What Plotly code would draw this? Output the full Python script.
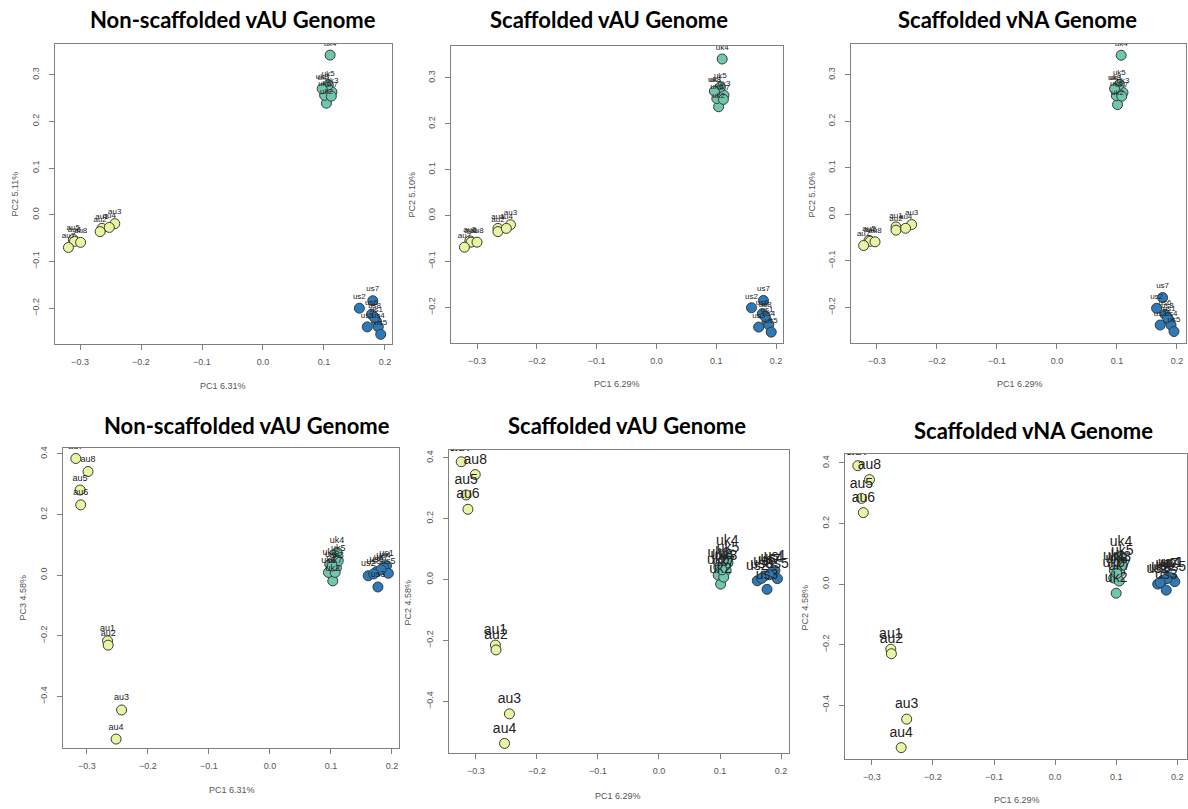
import plotly.graph_objects as go

# ---------------- data ----------------
samples = ["au1", "au2", "au3", "au4", "au5", "au6", "au7", "au8",
           "uk1", "uk2", "uk3", "uk4", "uk5", "uk6", "uk7", "uk8",
           "us1", "us2", "us3", "us4", "us5", "us6", "us7", "us8"]

titles = ["Non-scaffolded vAU Genome", "Scaffolded vAU Genome", "Scaffolded vNA Genome",
          "Non-scaffolded vAU Genome", "Scaffolded vAU Genome", "Scaffolded vNA Genome"]
x_titles = ["PC1 6.31%", "PC1 6.29%", "PC1 6.29%", "PC1 6.31%", "PC1 6.29%", "PC1 6.29%"]
y_titles = ["PC2 5.11%", "PC2 5.10%", "PC2 5.10%", "PC3 4.58%", "PC2 4.58%", "PC2 4.58%"]

x_ticks = [-0.3, -0.2, -0.1, 0.0, 0.1, 0.2]
y_ticks_top = [-0.2, -0.1, 0.0, 0.1, 0.2, 0.3]
y_ticks_bottom = [-0.4, -0.2, 0.0, 0.2, 0.4]

# Panel 1: non-scaffolded vAU, PC1 vs PC2
p1_x = [-0.264, -0.267, -0.243, -0.252, -0.311, -0.309, -0.319, -0.299,
        0.100, 0.104, 0.113, 0.110, 0.107, 0.101, 0.112, 0.097,
        0.186, 0.158, 0.171, 0.189, 0.193, 0.178, 0.180, 0.183]
p1_y = [-0.029, -0.036, -0.019, -0.027, -0.053, -0.057, -0.070, -0.059,
        0.268, 0.239, 0.263, 0.342, 0.278, 0.256, 0.254, 0.270,
        -0.228, -0.200, -0.240, -0.240, -0.256, -0.213, -0.184, -0.220]
# Panel 2: scaffolded vAU, PC1 vs PC2
p2_x = [-0.265, -0.265, -0.244, -0.251, -0.312, -0.310, -0.321, -0.300,
        0.099, 0.104, 0.113, 0.110, 0.107, 0.101, 0.112, 0.097,
        0.185, 0.159, 0.171, 0.188, 0.192, 0.177, 0.179, 0.182]
p2_y = [-0.028, -0.035, -0.020, -0.028, -0.055, -0.058, -0.069, -0.058,
        0.270, 0.237, 0.262, 0.341, 0.280, 0.255, 0.253, 0.271,
        -0.230, -0.201, -0.243, -0.238, -0.254, -0.214, -0.185, -0.220]
# Panel 3: scaffolded vNA, PC1 vs PC2
p3_x = [-0.268, -0.268, -0.242, -0.252, -0.313, -0.311, -0.322, -0.303,
        0.098, 0.101, 0.110, 0.107, 0.104, 0.099, 0.108, 0.096,
        0.187, 0.166, 0.172, 0.190, 0.195, 0.180, 0.176, 0.184]
p3_y = [-0.027, -0.034, -0.022, -0.030, -0.056, -0.058, -0.067, -0.059,
        0.269, 0.236, 0.262, 0.342, 0.279, 0.255, 0.254, 0.270,
        -0.228, -0.202, -0.238, -0.238, -0.252, -0.215, -0.179, -0.222]
# Panel 4: non-scaffolded vAU, PC1 vs PC3
p4_x = [-0.266, -0.265, -0.243, -0.252, -0.311, -0.310, -0.318, -0.298,
        0.098, 0.103, 0.109, 0.110, 0.112, 0.096, 0.107, 0.102,
        0.191, 0.161, 0.177, 0.186, 0.194, 0.175, 0.182, 0.170]
p4_y = [-0.217, -0.231, -0.445, -0.541, 0.281, 0.232, 0.385, 0.342,
        0.036, -0.019, 0.025, 0.075, 0.048, 0.009, 0.009, 0.030,
        0.031, -0.002, -0.039, 0.025, 0.006, 0.012, 0.018, 0.004]
# Panel 5: scaffolded vAU, PC1 vs PC3
p5_x = [-0.268, -0.267, -0.245, -0.253, -0.316, -0.313, -0.324, -0.301,
        0.098, 0.101, 0.110, 0.112, 0.113, 0.097, 0.106, 0.103,
        0.190, 0.161, 0.177, 0.185, 0.194, 0.173, 0.181, 0.168]
p5_y = [-0.215, -0.231, -0.441, -0.538, 0.278, 0.231, 0.387, 0.345,
        0.040, -0.015, 0.030, 0.078, 0.055, 0.015, 0.008, 0.032,
        0.030, -0.004, -0.032, 0.024, 0.003, 0.012, 0.016, 0.004]
# Panel 6: scaffolded vNA, PC1 vs PC3
p6_x = [-0.269, -0.268, -0.243, -0.252, -0.317, -0.314, -0.323, -0.304,
        0.097, 0.100, 0.106, 0.108, 0.110, 0.096, 0.105, 0.101,
        0.192, 0.168, 0.182, 0.187, 0.196, 0.176, 0.183, 0.172]
p6_y = [-0.215, -0.230, -0.446, -0.540, 0.283, 0.236, 0.391, 0.345,
        0.045, -0.030, 0.040, 0.091, 0.062, 0.020, 0.010, 0.035,
        0.020, 0.000, -0.020, 0.022, 0.008, 0.012, 0.018, 0.005]

panels_x = [p1_x, p2_x, p3_x, p4_x, p5_x, p6_x]
panels_y = [p1_y, p2_y, p3_y, p4_y, p5_y, p6_y]

# ---------------- style / layout ----------------
W, H = 1188, 809
group_colors = {"au": "#e9f5a3", "uk": "#6fc7ae", "us": "#2b7bba"}

# plot boxes in pixels: (left, right, top, bottom)
boxes = [(55, 392, 42, 343), (451, 783, 44, 342), (851, 1186, 42, 342),
         (63, 399, 447, 748), (449, 789, 449, 753), (845, 1187, 453, 759)]
x_ranges = [(-0.341, 0.2115), (-0.3435, 0.2117), (-0.343, 0.215),
            (-0.339, 0.2115), (-0.344, 0.213), (-0.344, 0.216)]
y_ranges = [(-0.277, 0.366), (-0.278, 0.3696), (-0.277, 0.3665),
            (-0.571, 0.42), (-0.570, 0.426), (-0.578, 0.43)]
label_sizes = [8, 8, 8, 9, 14, 14]
title_pos = [(233, 18), (609, 18), (1017, 18), (247, 425), (627, 425), (1033, 430)]
xt_pos = [(223, 385), (617, 383), (1020, 383), (232, 790), (618, 796), (1017, 800)]
yt_pos = [(15, 193), (412, 193), (812, 193), (23, 597), (408, 602), (805, 607)]


def fx(px):
    return px / W


def fy(py):
    return 1 - py / H


fig = go.Figure()
layout = dict(width=W, height=H, margin=dict(l=0, r=0, t=0, b=0),
              paper_bgcolor="white", plot_bgcolor="white", showlegend=False)
annotations = []

for i in range(6):
    n = i + 1
    xa = "x" if n == 1 else f"x{n}"
    ya = "y" if n == 1 else f"y{n}"
    xs, ys = panels_x[i], panels_y[i]
    for g in ["au", "uk", "us"]:
        idx = [k for k, s in enumerate(samples) if s.startswith(g)]
        fig.add_trace(go.Scatter(
            x=[xs[k] for k in idx], y=[ys[k] for k in idx], mode="markers",
            xaxis=xa, yaxis=ya, hoverinfo="skip",
            marker=dict(size=10, color=group_colors[g],
                        line=dict(color="#3a3a3a", width=1))))
    fig.add_trace(go.Scatter(
        x=xs, y=ys, text=samples, mode="markers+text", textposition="top center",
        xaxis=xa, yaxis=ya, hoverinfo="skip",
        marker=dict(size=10, color="rgba(0,0,0,0)"),
        textfont=dict(family="Liberation Sans, Arial", size=label_sizes[i], color="#222222")))

    l, r, t, b = boxes[i]
    axis_common = dict(showline=True, mirror=True, linecolor="#808080", linewidth=1.2,
                       ticks="outside", ticklen=5, tickcolor="#808080", tickwidth=1,
                       showgrid=False, zeroline=False,
                       tickfont=dict(family="Liberation Sans, Arial", size=9, color="#555555"))
    layout["xaxis" if n == 1 else f"xaxis{n}"] = dict(
        axis_common, domain=[fx(l), fx(r)], range=list(x_ranges[i]),
        tickvals=x_ticks, tickformat=".1f", anchor=ya, ticklabelstandoff=4)
    layout["yaxis" if n == 1 else f"yaxis{n}"] = dict(
        axis_common, domain=[fy(b), fy(t)], range=list(y_ranges[i]),
        tickvals=y_ticks_top if i < 3 else y_ticks_bottom, tickformat=".1f",
        tickangle=-90, anchor=xa, ticklabelstandoff=6)

    tx, ty = title_pos[i]
    annotations.append(dict(text=titles[i], x=fx(tx), y=fy(ty), xref="paper", yref="paper",
                            xanchor="center", yanchor="middle", showarrow=False,
                            font=dict(family="Lato", size=22, color="black", weight=700)))
    ax_, ay_ = xt_pos[i]
    annotations.append(dict(text=x_titles[i], x=fx(ax_), y=fy(ay_), xref="paper", yref="paper",
                            xanchor="center", yanchor="middle", showarrow=False,
                            font=dict(family="Liberation Sans, Arial", size=9, color="#555555")))
    bx_, by_ = yt_pos[i]
    annotations.append(dict(text=y_titles[i], x=fx(bx_), y=fy(by_), xref="paper", yref="paper",
                            xanchor="center", yanchor="middle", showarrow=False, textangle=-90,
                            font=dict(family="Liberation Sans, Arial", size=9, color="#555555")))

layout["annotations"] = annotations
fig.update_layout(**layout)
fig.write_html("out.html")
